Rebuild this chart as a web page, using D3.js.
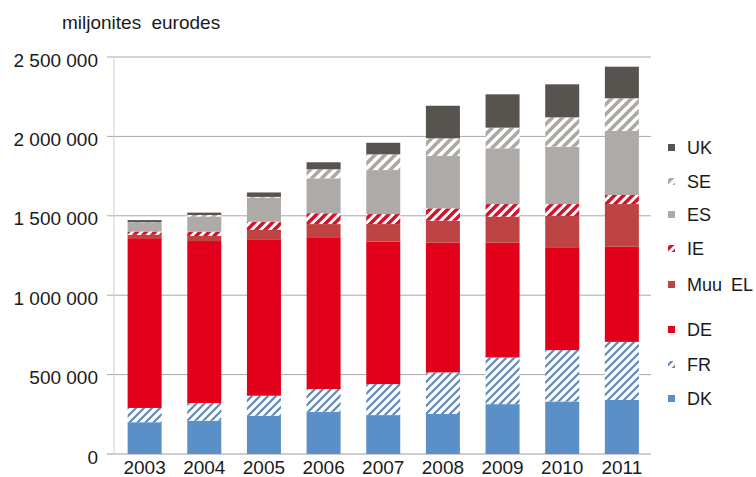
<!DOCTYPE html>
<html>
<head>
<meta charset="utf-8">
<script src="https://cdn.jsdelivr.net/npm/d3@7"></script>
<style>
  body { margin: 0; background: #fff; }
  text { font-family: "Liberation Sans", Arial, sans-serif; fill: #1a1a1a; }
</style>
</head>
<body>
<div id="chart"></div>
<script>
// values in million euros
const years = ['2003', '2004', '2005', '2006', '2007', '2008', '2009', '2010', '2011'];
const DK    = [200000, 210000, 241000, 266000, 245000, 252000, 314000, 331000, 340000];
const FR    = [ 90000, 111000, 126000, 143000, 195000, 262000, 294000, 323000, 366000];
const DE    = [1069000, 1020000, 981000, 956000, 897000, 817000, 723000, 648000, 599000];
const MuuEL = [ 21000,  32000,  63000,  83000, 111000, 138000, 163000, 197000, 269000];
const IE    = [ 21000,  27000,  52000,  68000,  63000,  78000,  80000,  75000,  57000];
const ES    = [ 55000,  95000, 151000, 220000, 277000, 330000, 351000, 361000, 403000];
const SE    = [  3000,  10000,   5000,  57000,  99000, 111000, 130000, 185000, 206000];
const UK    = [ 14000,  15000,  28000,  44000,  73000, 205000, 210000, 208000, 199000];
const yTicks = [0, 500000, 1000000, 1500000, 2000000, 2500000];

const keys = ['DK', 'FR', 'DE', 'Muu EL', 'IE', 'ES', 'SE', 'UK'];
const series = { 'DK': DK, 'FR': FR, 'DE': DE, 'Muu EL': MuuEL, 'IE': IE, 'ES': ES, 'SE': SE, 'UK': UK };
const rows = years.map((y, i) => {
  const r = { year: y };
  keys.forEach(k => { r[k] = series[k][i]; });
  return r;
});

const fills = {
  'DK': '#5b8fc8', 'FR': 'url(#hFR)', 'DE': '#e2001a', 'Muu EL': '#bd4442',
  'IE': 'url(#hIE)', 'ES': '#aeaaa7', 'SE': 'url(#hSE)', 'UK': '#57534f'
};

const svg = d3.select('#chart').append('svg')
  .attr('width', 756)
  .attr('height', 477);

const defs = svg.append('defs');
function hatch(id, size, color, sw) {
  const p = defs.append('pattern')
    .attr('id', id)
    .attr('patternUnits', 'userSpaceOnUse')
    .attr('width', size)
    .attr('height', size);
  p.append('rect').attr('width', size).attr('height', size).attr('fill', '#fff');
  p.append('path')
    .attr('d', `M${-size / 4},${size / 4} l${size / 2},${-size / 2} M0,${size} l${size},${-size} M${size * 3 / 4},${size * 5 / 4} l${size / 2},${-size / 2}`)
    .attr('stroke', color)
    .attr('stroke-width', sw);
}
hatch('hFR', 8, '#5f88b6', 2.2);
hatch('hIE', 9, '#d3122c', 3.4);
hatch('hSE', 10, '#aca8a4', 3.6);

const x = d3.scaleBand()
  .domain(years)
  .range([114.8, 651.7])
  .paddingInner(0.43)
  .paddingOuter(0.215);

const y = d3.scaleLinear()
  .domain([0, 2500000])
  .range([454, 57]);

// grid
svg.append('g')
  .selectAll('line')
  .data(yTicks)
  .join('line')
  .attr('x1', 107)
  .attr('x2', 651)
  .attr('y1', d => y(d))
  .attr('y2', d => y(d))
  .attr('stroke', d => d === 0 ? '#9c9c9c' : '#a8a8a8')
  .attr('stroke-width', 1);

svg.append('line')
  .attr('x1', 114).attr('x2', 114)
  .attr('y1', y(2500000)).attr('y2', y(0))
  .attr('stroke', '#d0d0d0');

svg.append('g')
  .selectAll('text')
  .data(yTicks)
  .join('text')
  .attr('x', 98)
  .attr('y', d => y(d) + 3)
  .attr('dy', '0.35em')
  .attr('text-anchor', 'end')
  .attr('font-size', '19px')
  .text(d => d === 0 ? '0' : d3.format(',')(d).replace(/,/g, ' '));

const stack = d3.stack().keys(keys)(rows);

svg.append('g')
  .selectAll('g')
  .data(stack)
  .join('g')
  .attr('fill', d => fills[d.key])
  .selectAll('rect')
  .data(d => d)
  .join('rect')
  .attr('x', d => x(d.data.year))
  .attr('width', x.bandwidth())
  .attr('y', d => y(d[1]))
  .attr('height', d => y(d[0]) - y(d[1]));

svg.append('g')
  .selectAll('text')
  .data(years)
  .join('text')
  .attr('x', d => x(d) + x.bandwidth() / 2)
  .attr('y', 474)
  .attr('text-anchor', 'middle')
  .attr('font-size', '19px')
  .text(d => d);

svg.append('text')
  .attr('x', 62)
  .attr('y', 29)
  .attr('font-size', '19px')
  .attr('word-spacing', '5px')
  .text('miljonites eurodes');

// legend, top to bottom
const legendItems = ['UK', 'SE', 'ES', 'IE', 'Muu EL', 'DE', 'FR', 'DK'];
const legendY = [148, 182, 215, 249, 285, 330, 365, 399];
const lg = svg.append('g')
  .selectAll('g')
  .data(legendItems)
  .join('g')
  .attr('transform', (d, i) => `translate(668, ${legendY[i]})`);

lg.append('rect')
  .attr('x', 0)
  .attr('y', -4)
  .attr('width', 7)
  .attr('height', 7)
  .attr('fill', d => fills[d]);

lg.append('text')
  .attr('x', 19)
  .attr('dy', '0.35em')
  .attr('font-size', '18px')
  .attr('word-spacing', '4px')
  .text(d => d);
</script>
</body>
</html>
